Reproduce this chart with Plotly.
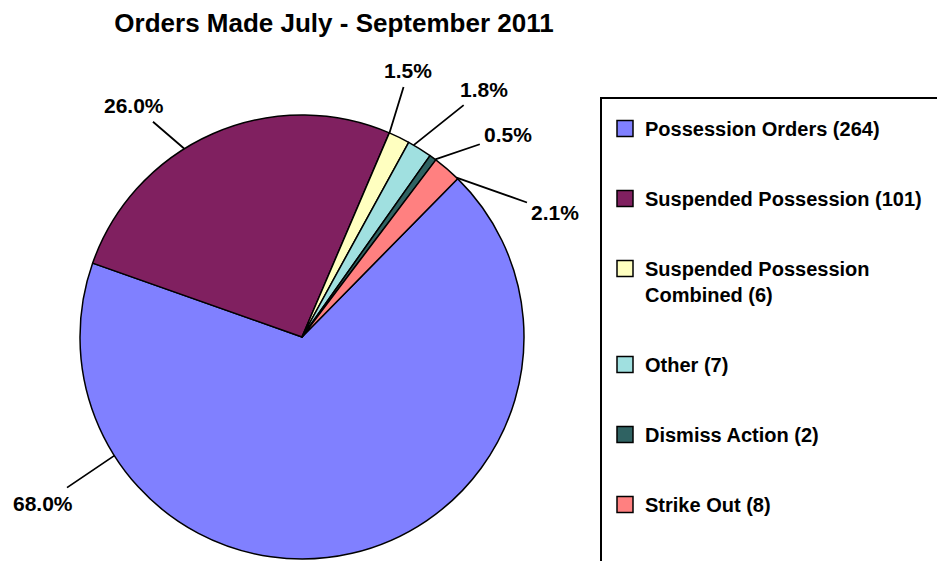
import math
import textwrap
import plotly.graph_objs as go

categories = ["Possession Orders", "Suspended Possession", "Suspended Possession Combined",
              "Other", "Dismiss Action", "Strike Out"]
order_counts = [264, 101, 6, 7, 2, 8]
slice_colors = ["#8080FF", "#802060", "#FFFFC0", "#A0E0E0", "#2F6262", "#FF8080"]

# figure size; the page adds an 8px body margin, so layout spots below are page pixels
W, H = 945, 561
PAGE_PAD = 8
CX, CY, R = 302, 337, 222
START_ANGLE = 44.5

# where each leader line touches the pie (deg clockwise from 12 o'clock)
# and the pixel shift from there to the label text
label_angles = [237.7, 328, 23.2, 30.2, 36.9, 44.1]
label_shifts = [(-71, 48), (-50, -43), (19, -62), (70, -56), (73, -25), (99, 35)]

FONT = "Liberation Sans, Arial, sans-serif"


def fx(px):
    return (px - PAGE_PAD) / W


def fy(py):
    return 1 - (py - PAGE_PAD) / H


def pct_labels(values):
    total = sum(values)
    return [f"{v / total * 100:.1f}%" for v in values]


def legend_names(names, values):
    return ["<br>".join(textwrap.wrap(f"{n} ({v})", 28)) for n, v in zip(names, values)]


fig = go.Figure()

fig.add_trace(go.Pie(
    labels=categories,
    values=order_counts,
    sort=False,
    direction='clockwise',
    rotation=START_ANGLE,
    textinfo='none',
    hoverinfo='label+value+percent',
    marker=dict(colors=slice_colors, line=dict(color='black', width=1.5)),
    domain=dict(x=[fx(CX - R), fx(CX + R)], y=[fy(CY + R), fy(CY - R)]),
    showlegend=False,
))

# legend entries, one group each so the spacing can be opened up
for name, color in zip(legend_names(categories, order_counts), slice_colors):
    fig.add_trace(go.Scatter(
        x=[None], y=[None], mode='markers', name=name, legendgroup=name,
        marker=dict(symbol='square', size=16, color=color, line=dict(color='black', width=1.5)),
    ))

for text, ang, (ax, ay) in zip(pct_labels(order_counts), label_angles, label_shifts):
    a = math.radians(ang)
    fig.add_annotation(
        x=fx(CX + R * math.sin(a)), y=fy(CY - R * math.cos(a)),
        xref='paper', yref='paper', ax=ax, ay=ay,
        text=text, showarrow=True, arrowhead=0, arrowwidth=1.8, arrowcolor='black',
        borderpad=4, font=dict(family=FONT, size=21, color='black', weight='bold'),
    )

# legend frame runs off the right and bottom edges like the original
fig.add_shape(type='rect', xref='paper', yref='paper',
              x0=fx(601), x1=1.05, y0=-0.05, y1=fy(98),
              line=dict(color='black', width=2))

fig.update_layout(
    width=W, height=H,
    margin=dict(l=0, r=0, t=0, b=0),
    paper_bgcolor='white', plot_bgcolor='white',
    title=dict(text="Orders Made July - September 2011", x=fx(334), xanchor='center',
               y=fy(23), yanchor='middle',
               font=dict(family=FONT, size=26, color='black', weight='bold')),
    xaxis=dict(visible=False), yaxis=dict(visible=False),
    legend=dict(x=fx(605), y=fy(109), xanchor='left', yanchor='top',
                tracegroupgap=41, valign='top', bgcolor='rgba(0,0,0,0)',
                font=dict(family=FONT, size=20, color='black', weight='bold')),
)

fig.write_html("out.html")
